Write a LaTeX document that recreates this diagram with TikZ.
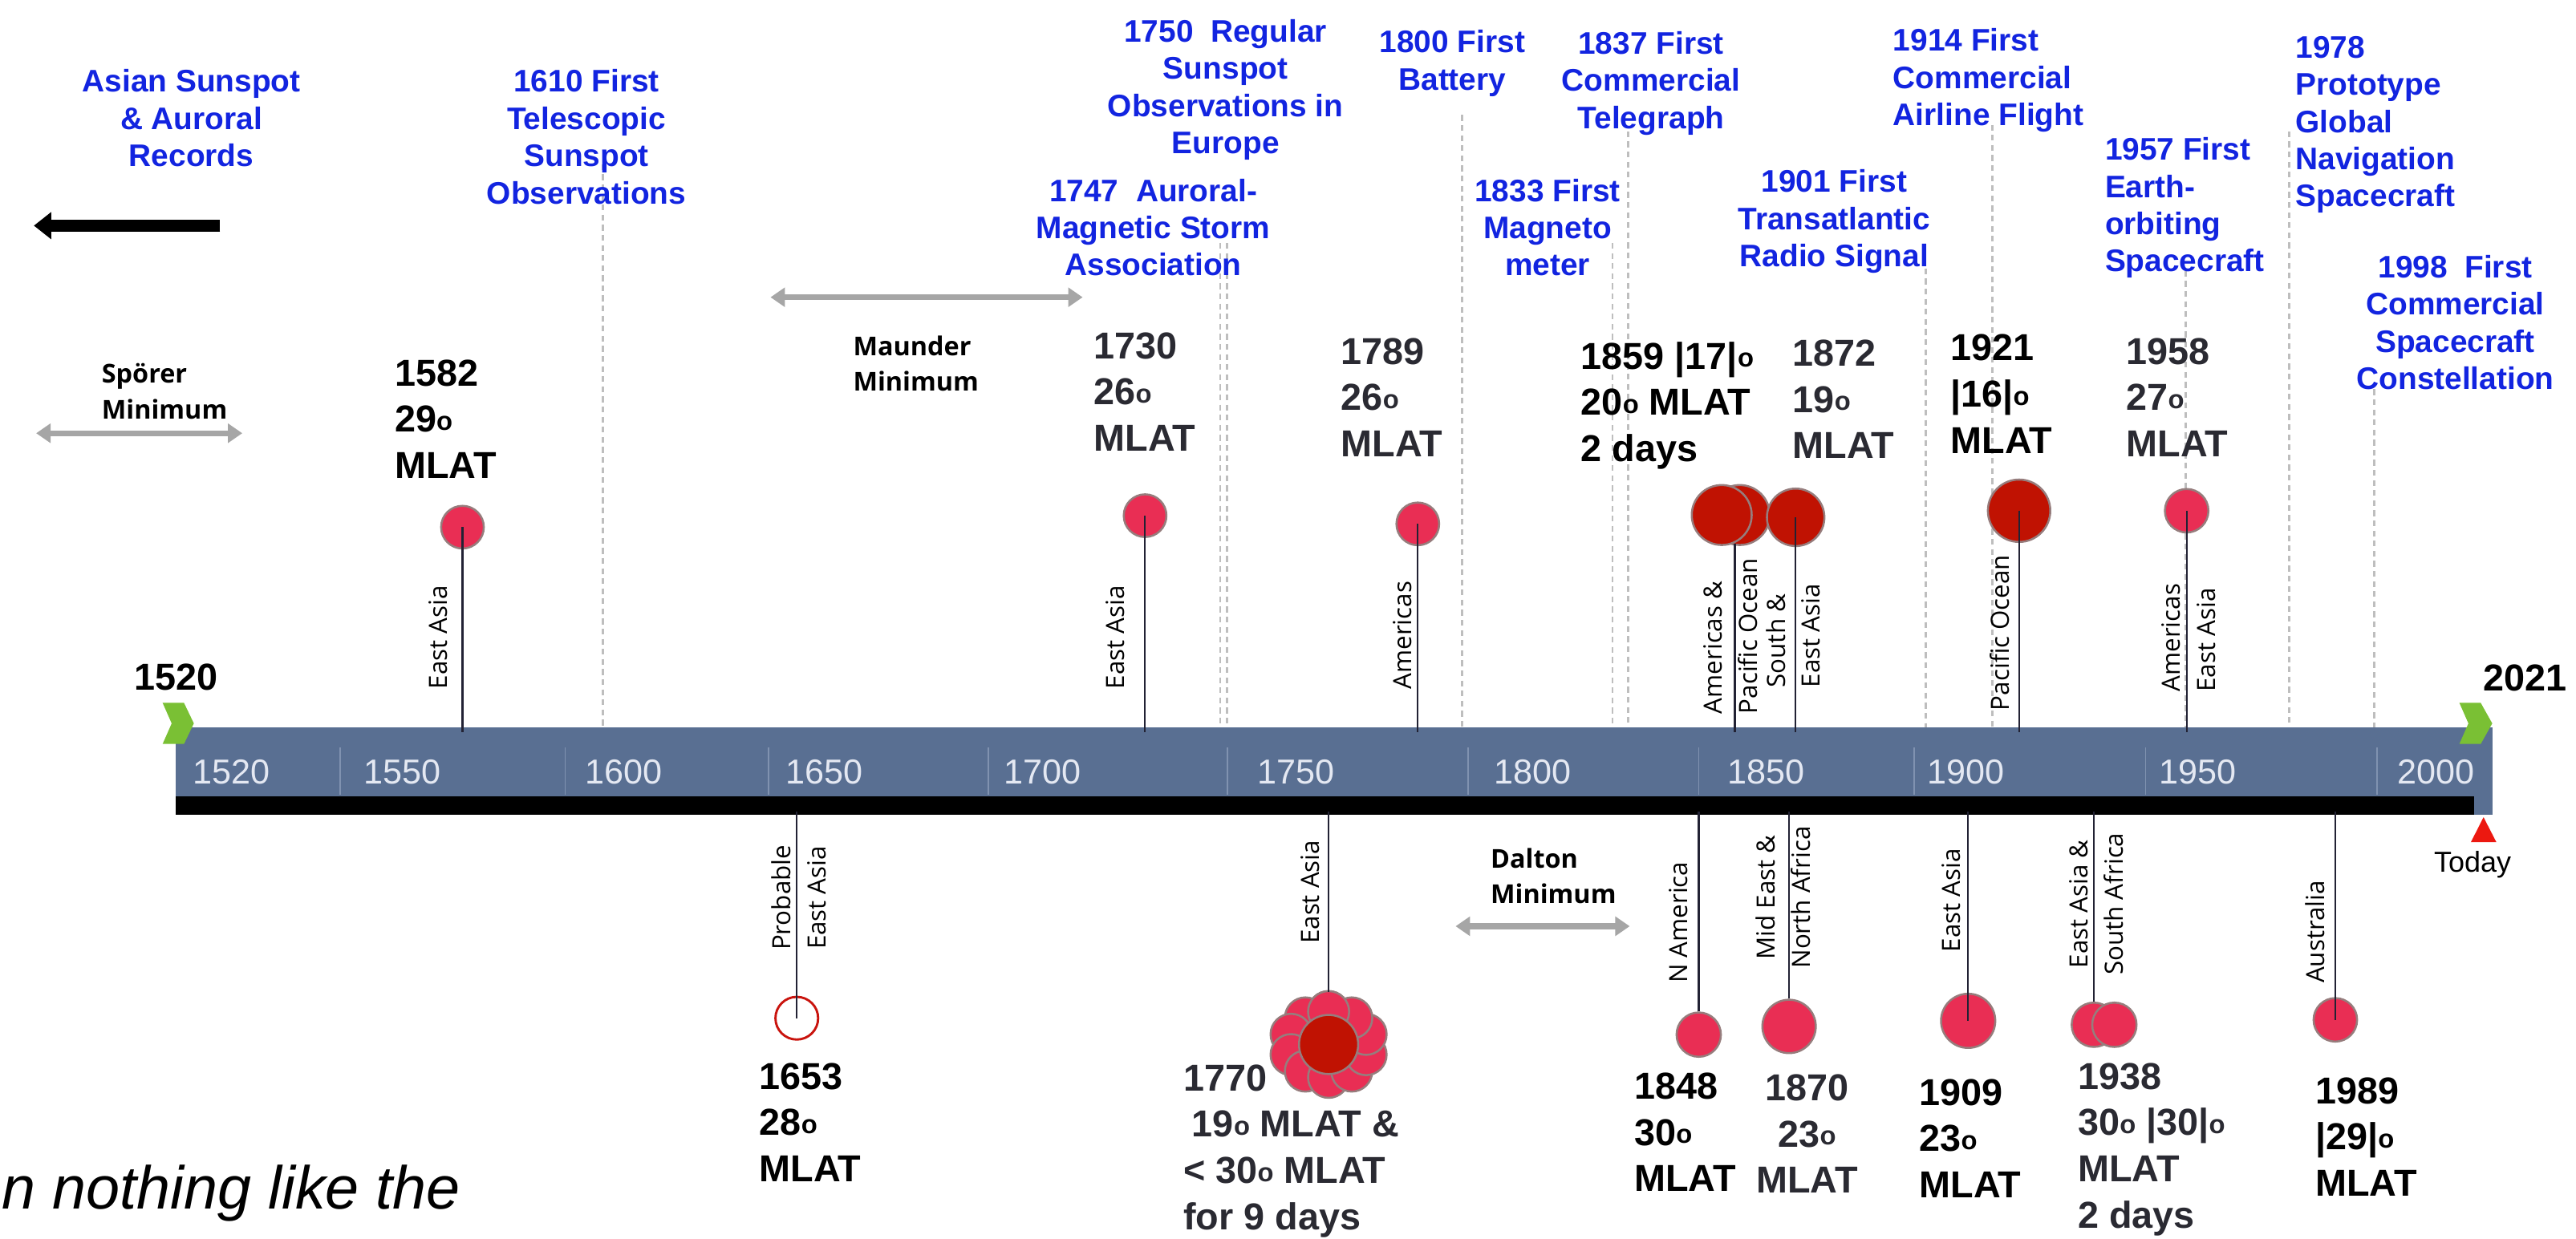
\documentclass[tikz,border=0pt]{standalone}
\usepackage{fontspec}
\setmainfont{Liberation Sans}
\newfontfamily\regfont{Open Sans}
\usepackage{graphicx}
\usetikzlibrary{arrows.meta}
\definecolor{inkblue}{RGB}{18,36,224}
\definecolor{barblue}{RGB}{89,111,146}
\definecolor{ticktext}{RGB}{228,232,242}
\definecolor{tickline}{RGB}{128,146,176}
\definecolor{spotpink}{RGB}{233,46,84}
\definecolor{spotred}{RGB}{192,18,2}
\definecolor{rim}{RGB}{150,125,125}
\definecolor{guidegray}{RGB}{190,190,190}
\definecolor{spangray}{RGB}{166,166,166}
\definecolor{stemink}{RGB}{34,34,52}
\definecolor{chev}{RGB}{122,192,52}
\definecolor{inkgray}{RGB}{42,42,50}
\definecolor{todayred}{RGB}{236,24,16}
\newcommand{\dgr}{\raisebox{0.1ex}{\scalebox{0.7}{o}}}
\tikzset{
  milestone/.style={font=\fontsize{10.8}{12.9}\selectfont\bfseries, text=inkblue, align=center, inner sep=0pt, anchor=north},
  milestoneL/.style={milestone, align=left, anchor=north west},
  storm/.style={font=\fontsize{13}{16}\selectfont\bfseries, align=left, inner sep=0pt, anchor=north west},
  stormgray/.style={storm, text=inkgray},
  regionlbl/.style={font=\regfont\fontsize{8.7}{12.2}\selectfont, rotate=90, inner sep=0pt},
  minlbl/.style={font=\regfont\fontsize{9}{12.4}\selectfont\bfseries, align=left, inner sep=0pt, anchor=north west},
  spot/.style={circle, draw=rim, line width=0.7pt, fill=spotpink, inner sep=0pt},
  bigspot/.style={spot, fill=spotred},
  petal/.style={draw=rim, line width=0.7pt, fill=spotpink},
  guide/.style={draw=guidegray, line width=0.8pt, dash pattern=on 2pt off 1.5pt},
  stemline/.style={draw=stemink, line width=0.6pt},
  minspan/.style={draw=spangray, line width=2pt, {Triangle[length=5pt,width=6.5pt]}-{Triangle[length=5pt,width=6.5pt]}},
}

\begin{document}
\begin{tikzpicture}[x=0.02cm, y=0.02cm,
    yearmark/.style={font=\fontsize{12}{12}\selectfont, text=ticktext, inner sep=0pt, anchor=west},
    endyear/.style={font=\fontsize{13}{16}\selectfont\bfseries, inner sep=0pt}]
  \useasboundingbox (0,0) rectangle (1568,-754);
  \coordinate (bartop) at (0,-446);
  \coordinate (barbot) at (0,-494);
  \foreach \n/\gx/\gy in {1610/367/100, 1747/742.7/148, 1750/746.8/148, 1800/890/70, 1833/981.5/148, 1837/991/80, 1901/1172/163.5, 1914/1212.7/76, 1957/1330.4/165, 1978/1393.6/80, 1998/1445/237} {
    \coordinate (g\n) at (\gx,-\gy);
    \draw[guide] (g\n) -- (g\n |- bartop);
  }
  \fill[barblue] (107,-443) rectangle (1517,-496);
  \fill[black] (107,-485) rectangle (1506,-496);
  \foreach \xs in {207,344,468,601.5,747,893.5,1034,1165,1306,1447}
    \draw[tickline, line width=0.5pt] (\xs,-455) -- (\xs,-484);
  \foreach \yr/\xl in {1520/117,1550/221,1600/356,1650/478,1700/611,1750/765,1800/909,1850/1051,1900/1173,1950/1314,2000/1459}
    \node[yearmark] (t\yr) at (\xl,-470) {\yr};
  \fill[chev] (99,-428) -- (112,-428) -- (118,-440.5) -- (112,-453) -- (99,-453) -- (104.5,-440.5) -- cycle;
  \fill[chev] (1497,-428) -- (1510,-428) -- (1517,-440.5) -- (1510,-453) -- (1497,-453) -- (1502.5,-440.5) -- cycle;
  \node[endyear] (y1520) at (107,-412.5) {1520};
  \node[endyear] (y2021) at (1537,-413) {2021};
  \fill[todayred] (1504,-512.8) -- (1519.5,-512.8) -- (1511.7,-497.6) -- cycle;
  \node[font=\fontsize{10}{10}\selectfont, inner sep=0pt] (today) at (1505,-526.5) {Today};

  \coordinate (pastA) at (134,-137.4);
  \coordinate (pastB) at (20.6,-137.4);
  \draw[line width=4pt, -{Triangle[length=6pt,width=9pt]}] (pastA) -- (pastB);
  \coordinate (sporA) at (22,-263.8);  \coordinate (sporB) at (147.5,-263.8);
  \coordinate (maunA) at (469,-181);   \coordinate (maunB) at (659,-181);
  \coordinate (daltA) at (886,-564);   \coordinate (daltB) at (992,-564);
  \draw[minspan] (sporA) -- (sporB);
  \draw[minspan] (maunA) -- (maunB);
  \draw[minspan] (daltA) -- (daltB);
  \node[minlbl] (sporer) at (61.6,-221) {Spörer\\Minimum};
  \node[minlbl] (maunder) at (519,-204) {Maunder\\Minimum};
  \node[minlbl] (dalton) at (907,-516) {Dalton\\Minimum};

  \node[milestone] (mAsia) at (116.5,-42) {Asian Sunspot\\\& Auroral\\Records};
  \node[milestone] (m1610) at (357,-42) {1610 First\\Telescopic\\Sunspot\\Observations};
  \node[milestone] (m1750) at (746,-11.5) {1750\ \ Regular\\Sunspot\\Observations in\\Europe};
  \node[milestone] (m1747) at (702,-108.5) {1747\ \ Auroral-\\Magnetic Storm\\Association};
  \node[milestone] (m1800) at (884,-18) {1800 First\\Battery};
  \node[milestone] (m1837) at (1005,-18.7) {1837 First\\Commercial\\Telegraph};
  \node[milestone] (m1833) at (942,-108.5) {1833 First\\Magneto\\meter};
  \node[milestoneL] (m1914) at (1152,-17) {1914 First\\Commercial\\Airline Flight};
  \node[milestone] (m1901) at (1116.5,-103) {1901 First\\Transatlantic\\Radio Signal};
  \node[milestoneL] (m1957) at (1281,-83.4) {1957 First\\Earth-\\orbiting\\Spacecraft};
  \node[milestoneL] (m1978) at (1397,-21.7) {1978\\Prototype\\Global\\Navigation\\Spacecraft};
  \node[milestone] (m1998) at (1494.5,-155) {1998\ \ First\\Commercial\\Spacecraft\\Constellation};

  \node[spot, minimum size=0.52cm] (c1582) at (281.5,-321) {};
  \node[spot, minimum size=0.52cm] (c1730) at (697,-314) {};
  \node[spot, minimum size=0.52cm] (c1789) at (863,-319) {};
  \node[bigspot, minimum size=0.73cm] (c1859b) at (1059,-313.6) {};
  \node[bigspot, minimum size=0.73cm] (c1859) at (1048,-313.6) {};
  \node[bigspot, minimum size=0.70cm] (c1872) at (1093,-315) {};
  \node[bigspot, minimum size=0.76cm] (c1921) at (1229,-311) {};
  \node[spot, minimum size=0.53cm] (c1958) at (1331,-311) {};
  \node[circle, draw=todayred!85!black, line width=0.8pt, fill=white, inner sep=0pt, minimum size=0.52cm] (c1653) at (485,-620) {};
  \begin{scope}[shift={(808.7,-636)}]
    \foreach \a in {90,126,...,450}
      \filldraw[petal] (\a:24 and 20) circle[radius=0.25cm];
  \end{scope}
  \node[bigspot, minimum size=0.72cm] (c1770) at (808.7,-636) {};
  \coordinate (f1770) at (808.7,-604);
  \node[spot, minimum size=0.54cm] (c1848) at (1034,-630) {};
  \node[spot, minimum size=0.65cm] (c1870) at (1089,-625) {};
  \node[spot, minimum size=0.66cm] (c1909) at (1198,-621.6) {};
  \node[spot, minimum size=0.54cm] (c1938a) at (1274.5,-624) {};
  \node[spot, minimum size=0.54cm] (c1938) at (1287,-624) {};
  \node[spot, minimum size=0.53cm] (c1989) at (1421.5,-621) {};

  \coordinate (s1859) at (1056,-331);
  \foreach \c in {c1582,c1730,c1789,c1872,c1921,c1958}
    \draw[stemline] (\c.center) -- (\c |- bartop);
  \draw[stemline] (s1859) -- (s1859 |- bartop);
  \foreach \c in {c1653,c1909,c1989}
    \draw[stemline] (\c.center) -- (\c |- barbot);
  \foreach \c in {f1770,c1848.north,c1870.north,c1938a.north}
    \draw[stemline] (\c) -- (\c |- barbot);

  \node[regionlbl, anchor=base west] (r1582) at (272,-420) {East Asia};
  \node[regionlbl, anchor=base west] (r1730) at (684.5,-420) {East Asia};
  \node[regionlbl, anchor=base west] (r1789) at (859,-420) {Americas};
  \node[regionlbl, anchor=west, align=left] (r1859) at (1053.5,-435) {Americas \&\\Pacific Ocean};
  \node[regionlbl, anchor=west, align=left] (r1872) at (1091.5,-419) {South \&\\East Asia};
  \node[regionlbl, anchor=base west] (r1921) at (1223,-433) {Pacific Ocean};
  \node[regionlbl, anchor=west, align=left] (r1958) at (1332,-421.5) {Americas\\East Asia};
  \node[regionlbl, anchor=west, align=center] (r1653) at (486.3,-579) {Probable\\East Asia};
  \node[regionlbl, anchor=base west] (r1770) at (803,-575) {East Asia};
  \node[regionlbl, anchor=base west] (r1848) at (1027,-599) {N America};
  \node[regionlbl, anchor=west, align=center] (r1870) at (1085.5,-590) {Mid East \&\\North Africa};
  \node[regionlbl, anchor=base west] (r1909) at (1193,-580) {East Asia};
  \node[regionlbl, anchor=west, align=center] (r1938) at (1276,-594) {East Asia \&\\South Africa};
  \node[regionlbl, anchor=base west] (r1989) at (1414.8,-599) {Australia};

  \node[storm] (e1582) at (240,-218.7) {1582\\29\dgr\\MLAT};
  \node[stormgray] (e1730) at (665.5,-202) {1730\\26\dgr\\MLAT};
  \node[stormgray] (e1789) at (816,-205.6) {1789\\26\dgr\\MLAT};
  \node[storm] (e1859) at (962,-207.8) {1859 |17|\dgr\\20\dgr{} MLAT\\2 days};
  \node[stormgray] (e1872) at (1091,-206.7) {1872\\19\dgr\\MLAT};
  \node[storm] (e1921) at (1187,-203.4) {1921\\|16|\dgr\\MLAT};
  \node[stormgray] (e1958) at (1294,-205.6) {1958\\27\dgr\\MLAT};
  \node[storm] (e1653) at (462,-647) {1653\\28\dgr\\MLAT};
  \node[stormgray] (e1770) at (720,-648) {1770\\\hspace{3pt}19\dgr{} MLAT \&\\< 30\dgr{} MLAT\\for 9 days};
  \node[storm] (e1848) at (994.5,-653) {1848\\30\dgr\\MLAT};
  \node[stormgray, align=center, anchor=north] (e1870) at (1100,-654) {1870\\23\dgr\\MLAT};
  \node[storm] (e1909) at (1168,-656.6) {1909\\23\dgr\\MLAT};
  \node[stormgray] (e1938) at (1264.6,-647) {1938\\30\dgr{} |30|\dgr\\MLAT\\2 days};
  \node[storm] (e1989) at (1409,-655.7) {1989\\|29|\dgr\\MLAT};

  \node[font=\fontsize{21}{21}\selectfont\itshape, anchor=base west, inner sep=0pt] (tagline) at (1,-736) {n nothing like the};
\end{tikzpicture}
\end{document}
